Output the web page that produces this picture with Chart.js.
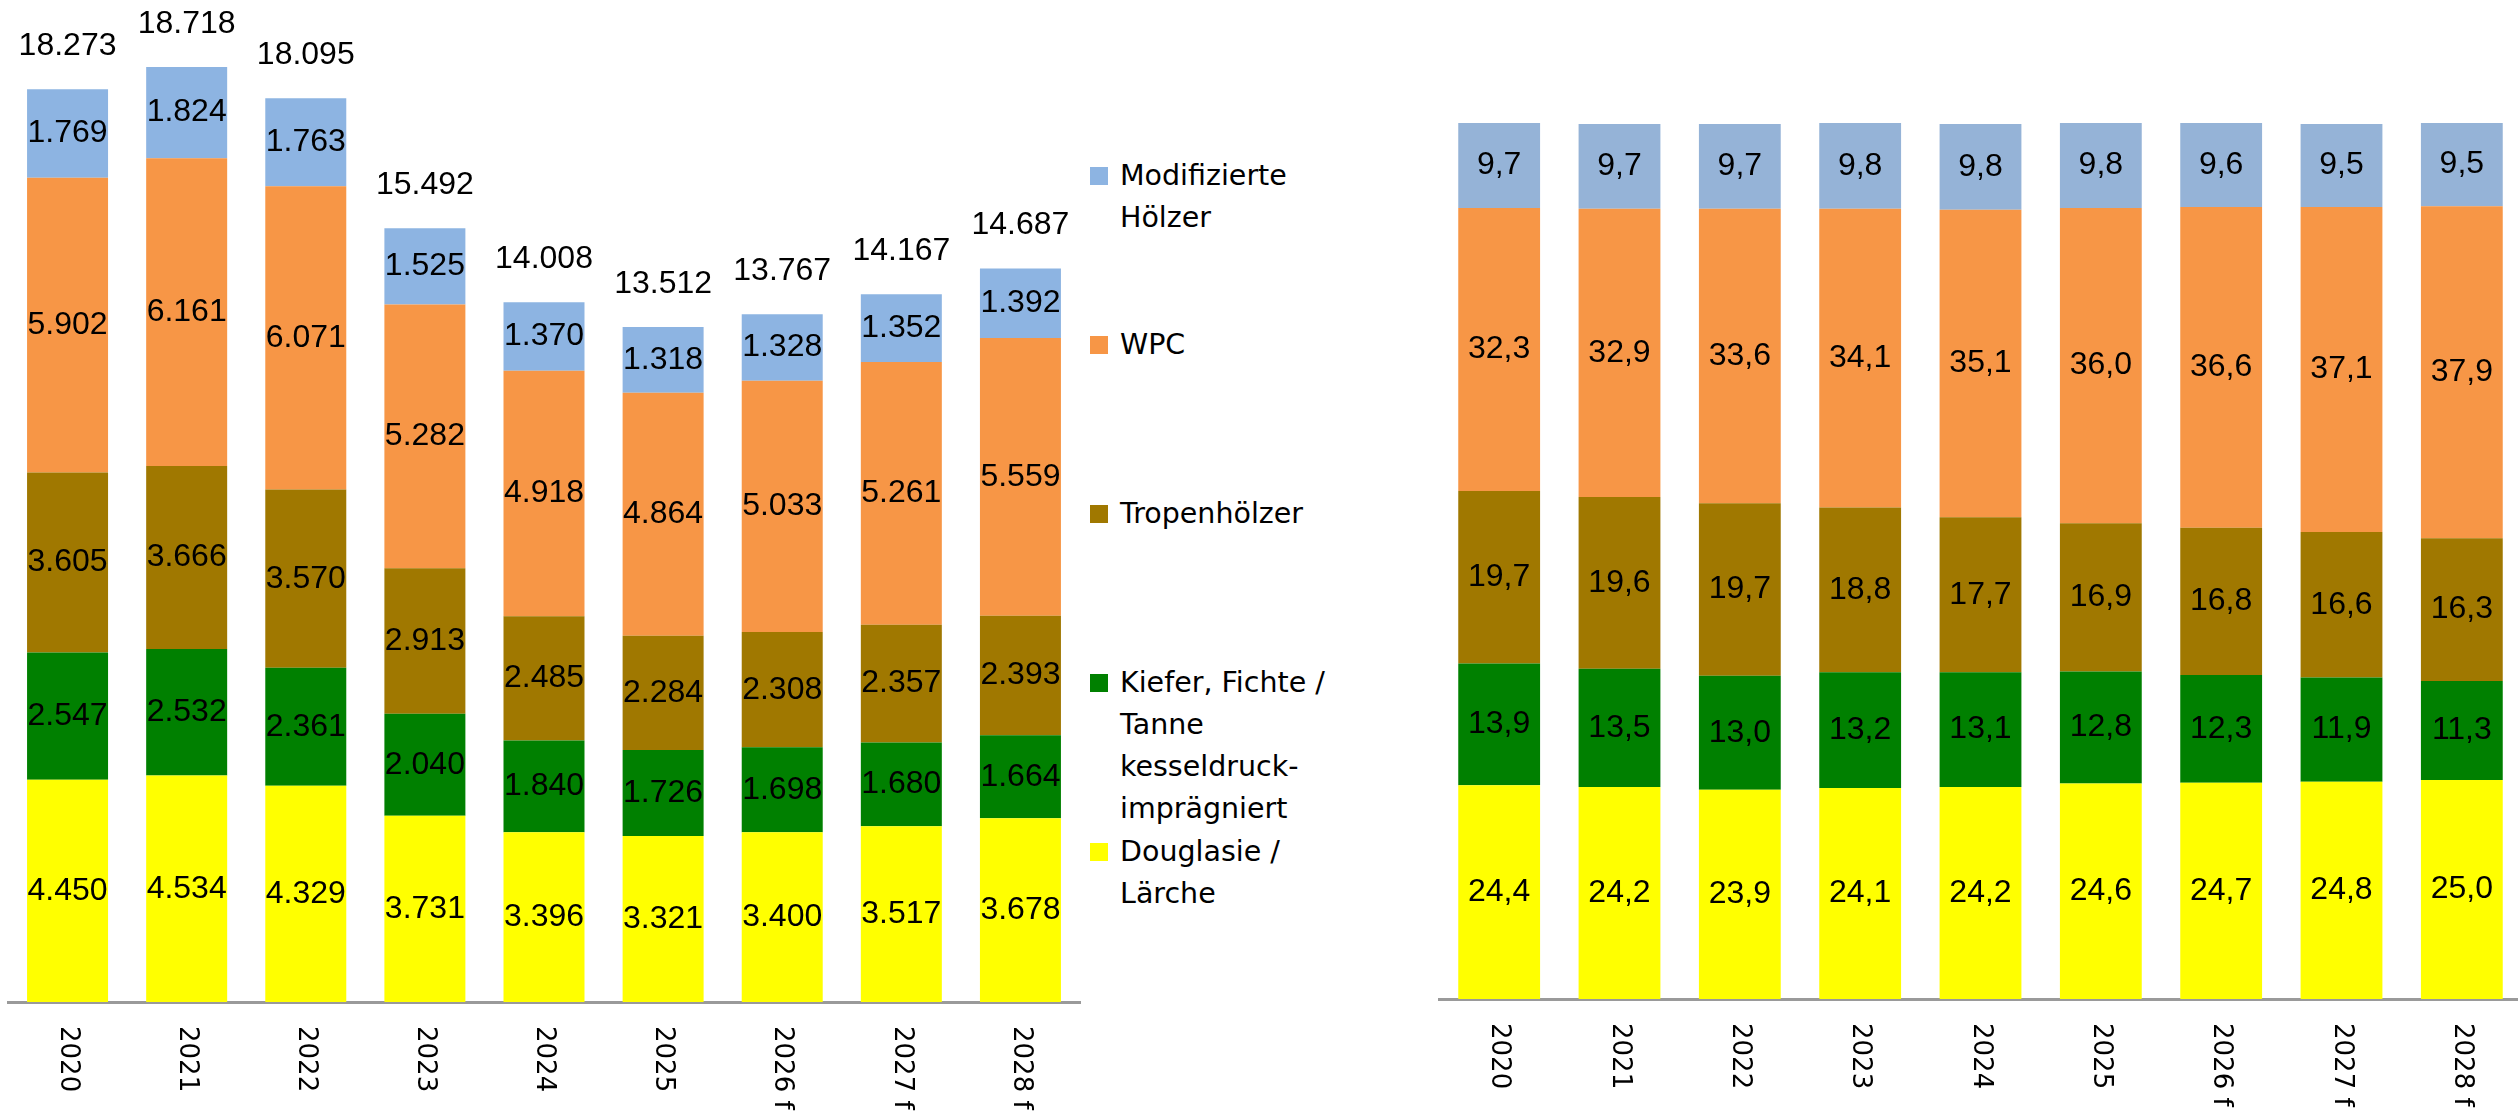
<!DOCTYPE html>
<html>
<head>
<meta charset="utf-8">
<script src="https://cdn.jsdelivr.net/npm/chart.js@4.4.1/dist/chart.umd.min.js"></script>
<style>
  html, body { margin: 0; padding: 0; background: #fff; overflow: hidden; }
  body { width: 2518px; height: 1119px; position: relative; }
  #absChart { position: absolute; left: 0; top: 0; }
  #pctChart { position: absolute; left: 1438px; top: 0; }
  #legend { position: absolute; left: 1090px; top: 155px; font-family: "DejaVu Sans", sans-serif; font-size: 28.5px; color: #000; }
  .item { height: 169px; display: flex; align-items: flex-start; }
  .box { width: 18px; height: 18px; margin-top: 12px; margin-right: 12px; flex: none; }
  .txt { width: 215px; line-height: 42px; }
</style>
</head>
<body>
<canvas id="absChart" width="1084" height="1119"></canvas>
<div id="legend"></div>
<canvas id="pctChart" width="1084" height="1119"></canvas>
<script>
// categories
const years = ["2020", "2021", "2022", "2023", "2024", "2025", "2026 f", "2027 f", "2028 f"];

// series names (top to bottom as in legend)
const seriesNames = [
  "Modifizierte Hölzer",
  "WPC",
  "Tropenhölzer",
  "Kiefer, Fichte / Tanne kesseldruck-imprägniert",
  "Douglasie / Lärche",
];

// absolute values (left chart)
const modifiziert = [1769, 1824, 1763, 1525, 1370, 1318, 1328, 1352, 1392];
const wpc = [5902, 6161, 6071, 5282, 4918, 4864, 5033, 5261, 5559];
const tropen = [3605, 3666, 3570, 2913, 2485, 2284, 2308, 2357, 2393];
const kiefer = [2547, 2532, 2361, 2040, 1840, 1726, 1698, 1680, 1664];
const douglasie = [4450, 4534, 4329, 3731, 3396, 3321, 3400, 3517, 3678];
const totals = [18273, 18718, 18095, 15492, 14008, 13512, 13767, 14167, 14687];

// shares in percent (right chart)
const modifiziertPct = [9.7, 9.7, 9.7, 9.8, 9.8, 9.8, 9.6, 9.5, 9.5];
const wpcPct = [32.3, 32.9, 33.6, 34.1, 35.1, 36.0, 36.6, 37.1, 37.9];
const tropenPct = [19.7, 19.6, 19.7, 18.8, 17.7, 16.9, 16.8, 16.6, 16.3];
const kieferPct = [13.9, 13.5, 13.0, 13.2, 13.1, 12.8, 12.3, 11.9, 11.3];
const douglasiePct = [24.4, 24.2, 23.9, 24.1, 24.2, 24.6, 24.7, 24.8, 25.0];

const colors = ["#8DB4E2", "#F79646", "#A07800", "#008000", "#FFFF00"];
const colorsRight = ["#95B3D7", "#F79646", "#A07800", "#008000", "#FFFF00"];

const labelFont = "32px 'Liberation Sans', Arial, sans-serif";
const tickFont = "26px 'DejaVu Sans', sans-serif";

// German number formats
function fmtThousands(v) {
  return String(Math.round(v)).replace(/\B(?=(\d{3})+(?!\d))/g, ".");
}
function fmtDecimal(v) {
  return v.toFixed(1).replace(".", ",");
}

// draws the value inside every segment, optional totals above the stack
const segmentLabels = {
  id: "segmentLabels",
  afterDatasetsDraw(chart, args, opts) {
    const ctx = chart.ctx;
    ctx.save();
    ctx.font = labelFont;
    ctx.fillStyle = "#000";
    ctx.textAlign = "center";
    ctx.textBaseline = "middle";
    chart.data.datasets.forEach((ds, i) => {
      chart.getDatasetMeta(i).data.forEach((bar, j) => {
        ctx.fillText(opts.format(ds.data[j]), bar.x, (bar.y + bar.base) / 2);
      });
    });
    if (opts.totals) {
      const top = chart.getDatasetMeta(chart.data.datasets.length - 1).data;
      top.forEach((bar, j) => {
        ctx.fillText(opts.format(opts.totals[j]), bar.x, bar.y - 43);
      });
    }
    ctx.restore();
  },
};

// x labels rotated clockwise (reading top to bottom)
const rotatedTicks = {
  id: "rotatedTicks",
  afterDraw(chart) {
    const ctx = chart.ctx;
    const xs = chart.scales.x;
    ctx.save();
    ctx.font = tickFont;
    ctx.fillStyle = "#000";
    ctx.textAlign = "left";
    ctx.textBaseline = "middle";
    chart.data.labels.forEach((lbl, i) => {
      ctx.save();
      ctx.translate(xs.getPixelForTick(i), chart.chartArea.bottom + 24);
      ctx.rotate(Math.PI / 2);
      ctx.fillText(lbl, 0, 0);
      ctx.restore();
    });
    ctx.restore();
  },
};

function makeDatasets(series, palette) {
  // bottom segment first
  return series
    .map((data, i) => ({
      label: seriesNames[i],
      data: data,
      backgroundColor: palette[i],
      borderWidth: 0,
      barPercentage: 0.68,
      categoryPercentage: 1,
    }))
    .reverse();
}

function commonOptions(yMax, padding, labelOpts) {
  return {
    responsive: false,
    animation: false,
    layout: { padding: padding },
    plugins: {
      legend: { display: false },
      tooltip: { enabled: false },
      segmentLabels: labelOpts,
    },
    scales: {
      x: {
        stacked: true,
        grid: { display: false, drawTicks: false },
        ticks: { display: false },
        border: { display: true, color: "#9A9A9A", width: 3 },
      },
      y: {
        stacked: true,
        display: false,
        min: 0,
        max: yMax,
      },
    },
  };
}

// Left chart: absolute values
new Chart(document.getElementById("absChart").getContext("2d"), {
  type: "bar",
  data: {
    labels: years,
    datasets: makeDatasets([modifiziert, wpc, tropen, kiefer, douglasie], colors),
  },
  options: commonOptions(20000, { left: 8, right: 4, top: 3, bottom: 117 }, {
    format: fmtThousands,
    totals: totals,
  }),
  plugins: [segmentLabels, rotatedTicks],
});

// Right chart: shares
new Chart(document.getElementById("pctChart").getContext("2d"), {
  type: "bar",
  data: {
    labels: years,
    datasets: makeDatasets([modifiziertPct, wpcPct, tropenPct, kieferPct, douglasiePct], colorsRight),
  },
  options: commonOptions(100, { left: 1, right: 0, top: 123, bottom: 120 }, {
    format: fmtDecimal,
  }),
  plugins: [segmentLabels, rotatedTicks],
});

// Legend between the charts
const legend = document.getElementById("legend");
seriesNames.forEach((name, i) => {
  const item = document.createElement("div");
  item.className = "item";
  const box = document.createElement("div");
  box.className = "box";
  box.style.background = colors[i];
  const txt = document.createElement("div");
  txt.className = "txt";
  txt.textContent = name;
  item.appendChild(box);
  item.appendChild(txt);
  legend.appendChild(item);
});
</script>
</body>
</html>
